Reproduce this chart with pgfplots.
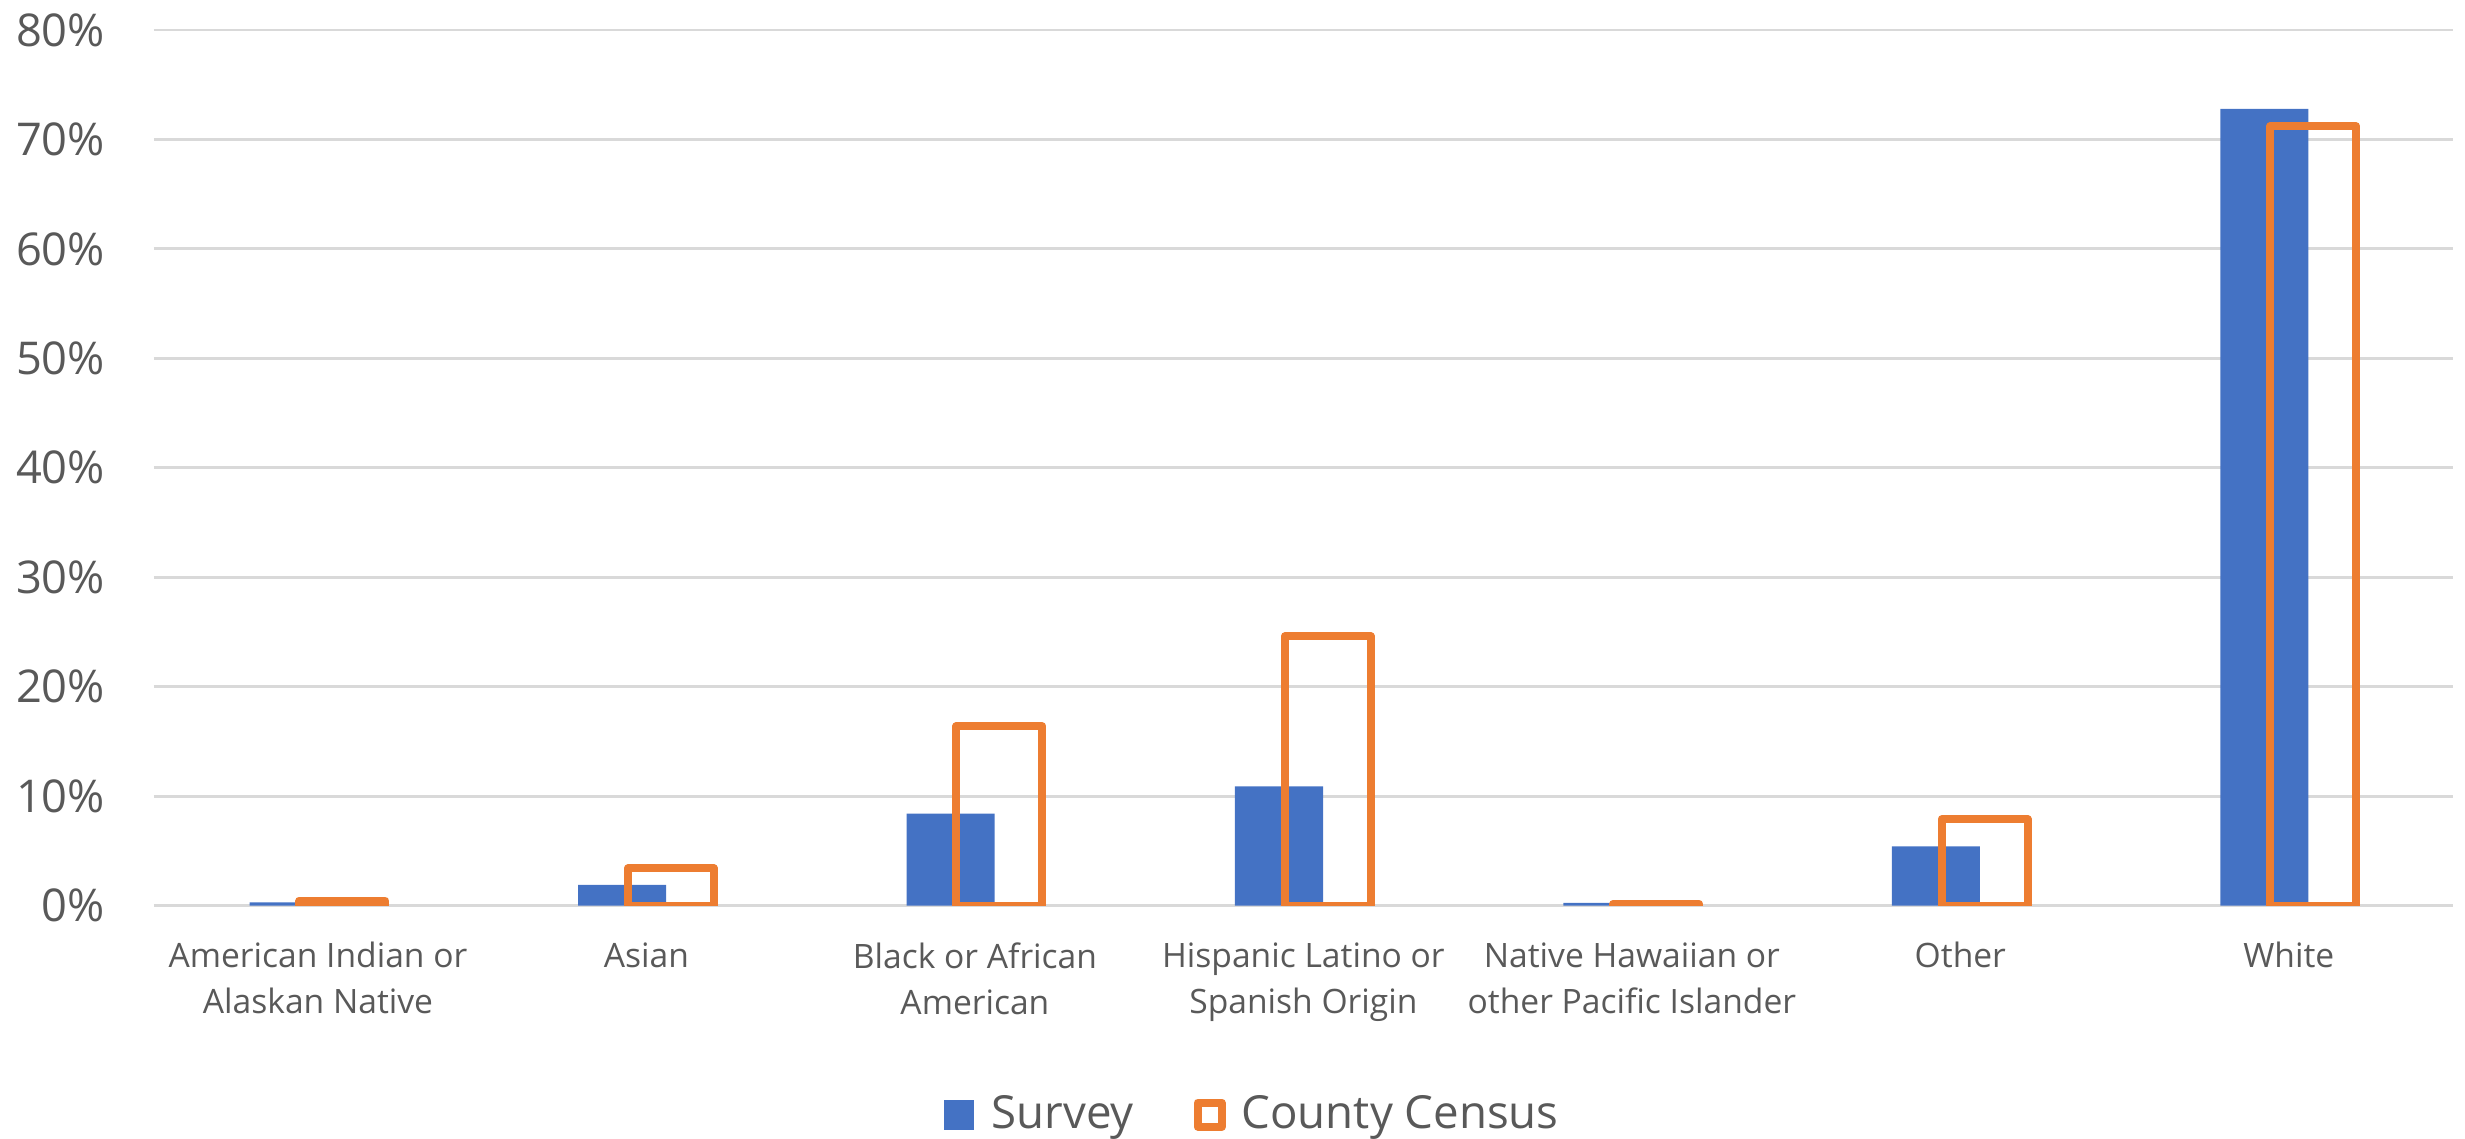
\documentclass[border=0pt]{standalone}
\usepackage{fontspec}
\setmainfont{Open Sans}
\usepackage{pgfplots}
\pgfplotsset{compat=1.18}

\definecolor{survey}{HTML}{4472C4}
\definecolor{census}{HTML}{ED7D31}
\definecolor{txt}{HTML}{595959}
\definecolor{gridc}{HTML}{D9D9D9}

\begin{document}
\begin{tikzpicture}
  \begin{axis}[
      scale only axis,
      width=574.8pt,
      height=218.9pt,
      xmin=-0.5, xmax=6.5,
      ymin=0, ymax=80,
      axis line style={draw=none},
      major tick length=0pt,
      ytick={0,10,...,80},
      yticklabels={0\%,10\%,20\%,30\%,40\%,50\%,60\%,70\%,80\%},
      ymajorgrids,
      grid style={gridc, line width=0.7pt},
      yticklabel style={font=\fontsize{11.3}{13}\selectfont, text=txt, inner sep=0pt, xshift=-12pt},
      xtick={0,...,6},
      xticklabels={
        American Indian or\\Alaskan Native,
        Asian,
        Black or African\\American,
        Hispanic Latino or\\Spanish Origin,
        Native Hawaiian or\\other Pacific Islander,
        Other,
        White
      },
      xticklabel style={font=\fontsize{8.4}{11.5}\selectfont, text=txt, align=center, anchor=north, inner sep=0pt, yshift=-9pt},
      legend columns=2,
      legend style={
        draw=none,
        at={(0.479,-0.2387)},
        anchor=center,
        font=\fontsize{11.4}{13}\selectfont,
        text=txt,
        /tikz/every even column/.append style={column sep=13pt},
      },
      legend cell align=left,
    ]
    \addplot[ybar, bar width=22pt, bar shift=-6.1pt, fill=survey, draw=none,
      legend image code/.code={\fill[survey] (0pt,-3.75pt) rectangle (7.5pt,3.75pt);}]
      coordinates {
        (0, 0.3)
        (1, 1.9)
        (2, 8.4)
        (3, 10.9)
        (4, 0.25)
        (5, 5.4)
        (6, 72.8)
      };
    \addlegendentry{\hspace{2.5pt}Survey}
    \addplot[ybar, bar width=21.5pt, bar shift=6.1pt, draw=census, line width=2pt, fill=none, line join=round,
      legend image code/.code={\draw[census, line width=2pt, line join=round] (1pt,-3pt) rectangle (7pt,3pt);}]
      coordinates {
        (0, 0.45)
        (1, 3.4)
        (2, 16.4)
        (3, 24.6)
        (4, 0.15)
        (5, 7.9)
        (6, 71.2)
      };
    \addlegendentry{\hspace{2pt}County Census}
  \end{axis}
  \pgfresetboundingbox
  \path ([xshift=-38.44pt,yshift=-58.25pt]current axis.south west)
    rectangle ([xshift=3pt,yshift=7.5pt]current axis.north east);
\end{tikzpicture}
\end{document}
